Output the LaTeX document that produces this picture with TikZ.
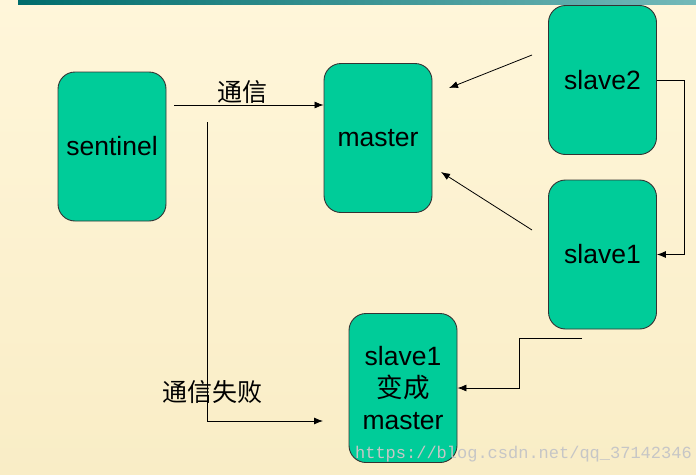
\documentclass[tikz,border=0pt]{standalone}
\usepackage{fontspec}
\setmainfont{Liberation Sans}
\newfontfamily\cjk{Noto Sans CJK SC}
\newfontfamily\wmfont{Liberation Mono}
\usetikzlibrary{arrows.meta}
\definecolor{bgtop}{HTML}{FFF6DA}
\definecolor{bgbot}{HTML}{F9EDC6}
\definecolor{boxfill}{HTML}{00CC99}
\definecolor{boxline}{HTML}{333333}
\tikzset{
  box/.style={draw=boxline, line width=0.9pt, fill=boxfill, rounded corners=17pt,
    minimum width=108pt, minimum height=149pt, inner sep=0pt,
    font=\fontsize{26.5}{32}\selectfont, align=center},
  arr/.style={draw=black, line width=0.8pt, -{Latex[length=9pt,width=7pt]}},
  lbl/.style={font=\cjk\fontsize{25}{28}\selectfont, inner sep=0pt}
}
\begin{document}
\begin{tikzpicture}[x=1pt,y=-1pt]
\useasboundingbox (0,0) rectangle (696,474);
\shade[top color=bgtop, bottom color=bgbot] (0,0) rectangle (696,474);
\shade[left color=teal!85!black, right color=teal!55] (18,0) rectangle (696,4);

\node[box] (sentinel) at (112,146.5) {sentinel};
\node[box] (master) at (378,138) {\raisebox{-2pt}{master}};
\node[box] (slave2) at (602.5,80) {slave2};
\node[box] (slave1) at (602.5,254.5) {slave1};
\node[box] (newm) at (403,388) {slave1\\{\cjk 变成}\\master};

\coordinate (a1) at (174,105);
\coordinate (b1) at (207,122);
\coordinate (b2) at (207,421);
\coordinate (b3) at (323,421);
\coordinate (c1) at (532,55);
\coordinate (c2) at (449,88);
\coordinate (d1) at (532,230);
\coordinate (d2) at (441,172);
\coordinate (e1) at (582,338);
\coordinate (e2) at (519,338);
\coordinate (e3) at (519,388);

\draw[arr] (a1) -- (a1 -| master.west);
\draw[arr] (b1) -- (b2) -- (b3);
\draw[arr] (c1) -- (c2);
\draw[arr] (d1) -- (d2);
\draw[arr] (slave2.east) -- ++(27,0) |- (slave1.east);
\draw[arr] (e1) -- (e2) -- (e3) -- (newm.east);

\node[lbl] (t1) at (242,92) {通信};
\node[lbl] (t2) at (212,392) {通信失败};

\node[font=\wmfont\fontsize{17}{20}\selectfont, text=gray!45, anchor=east, inner sep=0pt] (wm) at (692,454) {https://blog.csdn.net/qq\_37142346};
\end{tikzpicture}
\end{document}
